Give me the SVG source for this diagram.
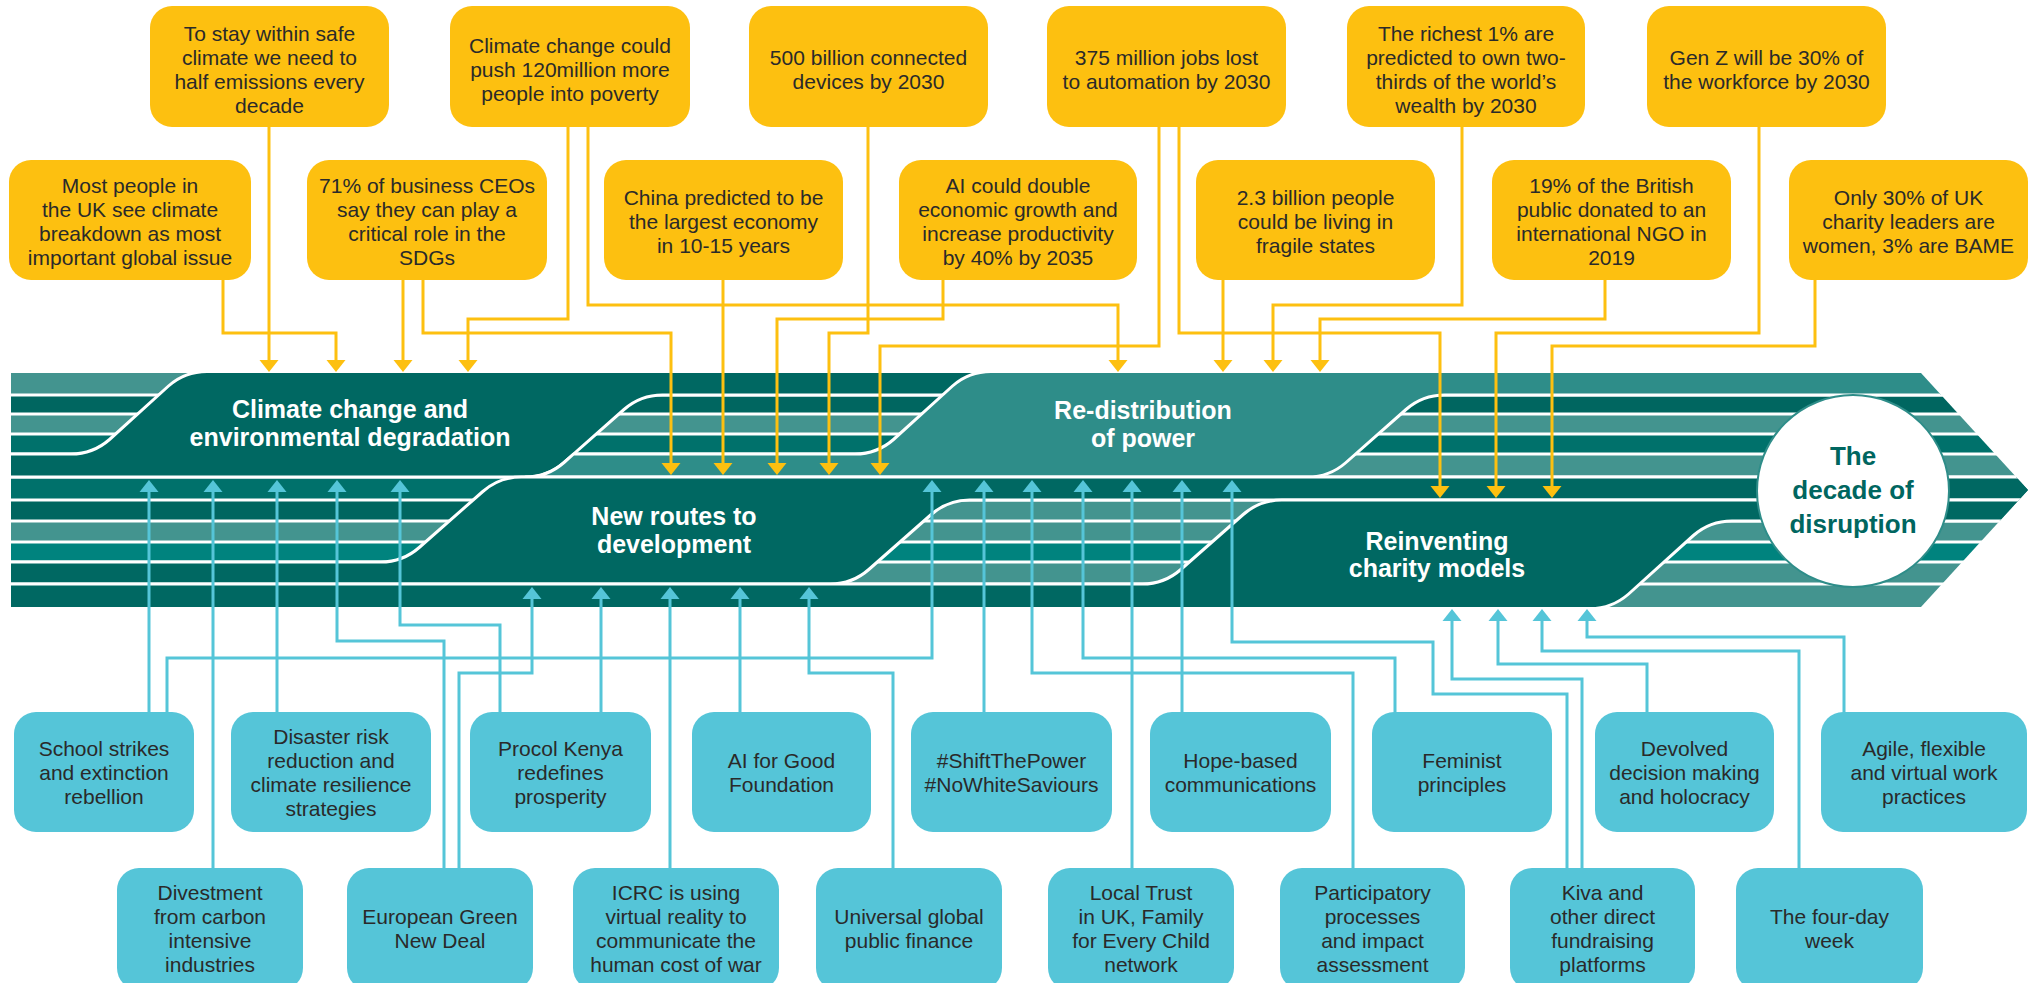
<svg xmlns="http://www.w3.org/2000/svg" width="2037" height="983" viewBox="0 0 2037 983">
<style>
.s-g{fill:#43948F}.s-d{fill:#006660}.s-t{fill:#00716B}.s-b{fill:#00837E}
.th-d{fill:#006862;stroke:#fff;stroke-width:3;stroke-linejoin:round}
.th-l{fill:#2E8D89;stroke:#fff;stroke-width:3;stroke-linejoin:round}
.lab{font-family:"Liberation Sans",Arial,sans-serif;font-weight:bold;font-size:25px;fill:#fff;text-anchor:middle}
.yb{fill:#FDC010}
.bb{fill:#55C5D8}
.tx{font-family:"Liberation Sans",Arial,sans-serif;font-size:21px;fill:#2A2A2A;text-anchor:middle}
.yl{fill:none;stroke:#FDC010;stroke-width:3;marker-end:url(#ay)}
.bl{fill:none;stroke:#55C5D8;stroke-width:3;marker-end:url(#ab)}
.ctx{font-family:"Liberation Sans",Arial,sans-serif;font-weight:bold;font-size:26px;fill:#006660;text-anchor:middle}
</style>
<defs>
<clipPath id="bc"><polygon points="11,373 1921,373 2028,490 1921,607 11,607"/></clipPath>
<marker id="ay" markerUnits="userSpaceOnUse" markerWidth="14" markerHeight="20" viewBox="0 -10 14 20" refX="1" refY="0" orient="auto"><path d="M0,-9.5 L12,0 L0,9.5 Z" fill="#FDC010"/></marker>
<marker id="ab" markerUnits="userSpaceOnUse" markerWidth="14" markerHeight="20" viewBox="0 -10 14 20" refX="1" refY="0" orient="auto"><path d="M0,-9.5 L12,0 L0,9.5 Z" fill="#55C5D8"/></marker>
</defs>
<rect width="2037" height="983" fill="#fff"/>

<g id="band-stripes" clip-path="url(#bc)">
<rect class="s-g" x="0" y="373" width="700" height="20.5"/>
<rect class="s-d" x="0" y="396.5" width="2100" height="16"/>
<rect class="s-g" x="0" y="415.5" width="2100" height="17"/>
<rect class="s-t" x="0" y="435.5" width="2100" height="17"/>
<rect class="s-g" x="0" y="455.5" width="2100" height="20"/>
<rect class="s-t" x="0" y="478.5" width="2100" height="20"/>
<rect class="s-d" x="0" y="501.5" width="700" height="18"/>
<rect class="s-g" x="700" y="501.5" width="1400" height="18"/>
<rect class="s-g" x="0" y="522.5" width="2100" height="18"/>
<rect class="s-b" x="0" y="543.5" width="2100" height="17"/>
<rect class="s-g" x="0" y="563.5" width="2100" height="19"/>
<rect class="s-g" x="0" y="585.5" width="2100" height="23"/>
</g>

<g id="theme-climate" clip-path="url(#bc)">
<path class="th-d" d="M0,454 L71,454 Q93,454 109.5,439.5 L168.5,386 Q185,371.5 207,371.5 L1000,371.5 L1000,395 L662.5,395 Q640.5,395 624,409.5 L564,462.5 Q547.5,477 525.5,477 L0,477 Z"/>
<text class="lab" x="350" y="418">Climate change and</text>
<text class="lab" x="350" y="446">environmental degradation</text>
</g>
<g id="theme-power" clip-path="url(#bc)">
<path class="th-l" d="M525.5,477 Q547.5,477 564,462.5 L573.6,454 L855,454 Q877,454 893.5,439.5 L952.5,386 Q969,371.5 991,371.5 L2100,371.5 L2100,395 L1444.5,395 Q1422.5,395 1406,409.5 L1346,462.5 Q1329.5,477 1307.5,477 Z"/>
<text class="lab" x="1143" y="419">Re-distribution</text>
<text class="lab" x="1143" y="447">of power</text>
</g>
<g id="theme-routes" clip-path="url(#bc)">
<path class="th-d" d="M0,562 L380.7,562 Q402.7,562 419.2,547.5 L482.8,491.5 Q499.3,477 521.3,477 L2100,477 L2100,500 L969.7,500 Q947.7,500 931.2,514.5 L868.8,569.5 Q852.3,584 830.3,584 L0,584 Z"/>
<text class="lab" x="674" y="525">New routes to</text>
<text class="lab" x="674" y="553">development</text>
</g>
<g id="theme-charity" clip-path="url(#bc)">
<path class="th-d" d="M0,584 L1142.3,584 Q1164.3,584 1180.8,569.5 L1243.2,514.5 Q1259.7,500 1281.7,500 L2100,500 L2100,521 L1731.9,521 Q1709.9,521 1693.4,535.5 L1628.6,594 Q1612.1,608.5 1590.1,608.5 L0,608.5 Z"/>
<text class="lab" x="1437" y="550">Reinventing</text>
<text class="lab" x="1437" y="577">charity models</text>
</g>

<g id="decade">
<circle cx="1853" cy="491" r="96" fill="#fff" stroke="#2E8D89" stroke-width="2"/>
<text class="ctx" x="1853" y="465">The</text>
<text class="ctx" x="1853" y="499">decade of</text>
<text class="ctx" x="1853" y="533">disruption</text>
</g>

<g id="connectors">
<path class="yl" d="M269,127 V361"/>
<path class="yl" d="M223,280 V333 H336 V361"/>
<path class="yl" d="M403,280 V361"/>
<path class="yl" d="M423,280 V333 H671 V464"/>
<path class="yl" d="M568,127 V319 H468 V361"/>
<path class="yl" d="M588,127 V305 H1118 V361"/>
<path class="yl" d="M723,280 V464"/>
<path class="yl" d="M868,127 V333 H829 V464"/>
<path class="yl" d="M943,280 V319 H777 V464"/>
<path class="yl" d="M1159,127 V346 H880 V464"/>
<path class="yl" d="M1179,127 V333 H1440 V487"/>
<path class="yl" d="M1223,280 V361"/>
<path class="yl" d="M1462,127 V305 H1273 V361"/>
<path class="yl" d="M1605,280 V319 H1320 V361"/>
<path class="yl" d="M1759,127 V333 H1496 V487"/>
<path class="yl" d="M1815,280 V346 H1552 V487"/>

<path class="bl" d="M149,712 V491"/>
<path class="bl" d="M167,712 V658 H932 V491"/>
<path class="bl" d="M213,868 V491"/>
<path class="bl" d="M277,712 V491"/>
<path class="bl" d="M444,868 V641 H337 V491"/>
<path class="bl" d="M500,712 V625 H400 V491"/>
<path class="bl" d="M459,868 V673 H532 V598"/>
<path class="bl" d="M601,712 V598"/>
<path class="bl" d="M670,868 V598"/>
<path class="bl" d="M740,712 V598"/>
<path class="bl" d="M893,868 V673 H809 V598"/>
<path class="bl" d="M984,712 V491"/>
<path class="bl" d="M1353,868 V673 H1032 V491"/>
<path class="bl" d="M1395,712 V658 H1083 V491"/>
<path class="bl" d="M1132,868 V491"/>
<path class="bl" d="M1182,712 V491"/>
<path class="bl" d="M1567,868 V694 H1433 V642 H1232 V491"/>
<path class="bl" d="M1582,868 V679 H1452 V620"/>
<path class="bl" d="M1647,712 V664 H1498 V620"/>
<path class="bl" d="M1799,868 V651 H1542 V620"/>
<path class="bl" d="M1844,712 V637 H1587 V620"/>
</g>

<g id="y1"><rect class="yb" x="150" y="6" width="239" height="121" rx="22"/>
<text class="tx" x="269.5" y="40.5">To stay within safe</text><text class="tx" x="269.5" y="64.5">climate we need to</text><text class="tx" x="269.5" y="88.5">half emissions every</text><text class="tx" x="269.5" y="112.5">decade</text></g>
<g id="y2"><rect class="yb" x="450" y="6" width="240" height="121" rx="22"/>
<text class="tx" x="570" y="52.5">Climate change could</text><text class="tx" x="570" y="76.5">push 120million more</text><text class="tx" x="570" y="100.5">people into poverty</text></g>
<g id="y3"><rect class="yb" x="749" y="6" width="239" height="121" rx="22"/>
<text class="tx" x="868.5" y="64.5">500 billion connected</text><text class="tx" x="868.5" y="88.5">devices by 2030</text></g>
<g id="y4"><rect class="yb" x="1047" y="6" width="239" height="121" rx="22"/>
<text class="tx" x="1166.5" y="64.5">375 million jobs lost</text><text class="tx" x="1166.5" y="88.5">to automation by 2030</text></g>
<g id="y5"><rect class="yb" x="1347" y="6" width="238" height="121" rx="22"/>
<text class="tx" x="1466" y="40.5">The richest 1% are</text><text class="tx" x="1466" y="64.5">predicted to own two-</text><text class="tx" x="1466" y="88.5">thirds of the world’s</text><text class="tx" x="1466" y="112.5">wealth by 2030</text></g>
<g id="y6"><rect class="yb" x="1647" y="6" width="239" height="121" rx="22"/>
<text class="tx" x="1766.5" y="64.5">Gen Z will be 30% of</text><text class="tx" x="1766.5" y="88.5">the workforce by 2030</text></g>

<g id="y7"><rect class="yb" x="9" y="160" width="242" height="120" rx="22"/>
<text class="tx" x="130" y="192.5">Most people in</text><text class="tx" x="130" y="216.5">the UK see climate</text><text class="tx" x="130" y="240.5">breakdown as most</text><text class="tx" x="130" y="264.5">important global issue</text></g>
<g id="y8"><rect class="yb" x="307" y="160" width="240" height="120" rx="22"/>
<text class="tx" x="427" y="192.5">71% of business CEOs</text><text class="tx" x="427" y="216.5">say they can play a</text><text class="tx" x="427" y="240.5">critical role in the</text><text class="tx" x="427" y="264.5">SDGs</text></g>
<g id="y9"><rect class="yb" x="604" y="160" width="239" height="120" rx="22"/>
<text class="tx" x="723.5" y="205">China predicted to be</text><text class="tx" x="723.5" y="229">the largest economy</text><text class="tx" x="723.5" y="253">in 10-15 years</text></g>
<g id="y10"><rect class="yb" x="899" y="160" width="238" height="120" rx="22"/>
<text class="tx" x="1018" y="192.5">AI could double</text><text class="tx" x="1018" y="216.5">economic growth and</text><text class="tx" x="1018" y="240.5">increase productivity</text><text class="tx" x="1018" y="264.5">by 40% by 2035</text></g>
<g id="y11"><rect class="yb" x="1196" y="160" width="239" height="120" rx="22"/>
<text class="tx" x="1315.5" y="205">2.3 billion people</text><text class="tx" x="1315.5" y="229">could be living in</text><text class="tx" x="1315.5" y="253">fragile states</text></g>
<g id="y12"><rect class="yb" x="1492" y="160" width="239" height="120" rx="22"/>
<text class="tx" x="1611.5" y="192.5">19% of the British</text><text class="tx" x="1611.5" y="216.5">public donated to an</text><text class="tx" x="1611.5" y="240.5">international NGO in</text><text class="tx" x="1611.5" y="264.5">2019</text></g>
<g id="y13"><rect class="yb" x="1789" y="160" width="239" height="120" rx="22"/>
<text class="tx" x="1908.5" y="205">Only 30% of UK</text><text class="tx" x="1908.5" y="229">charity leaders are</text><text class="tx" x="1908.5" y="253">women, 3% are BAME</text></g>

<g id="b1"><rect class="bb" x="14" y="712" width="180" height="120" rx="22"/>
<text class="tx" x="104" y="755.5">School strikes</text><text class="tx" x="104" y="779.5">and extinction</text><text class="tx" x="104" y="803.5">rebellion</text></g>
<g id="b2"><rect class="bb" x="231" y="712" width="200" height="120" rx="22"/>
<text class="tx" x="331" y="743.5">Disaster risk</text><text class="tx" x="331" y="767.5">reduction and</text><text class="tx" x="331" y="791.5">climate resilience</text><text class="tx" x="331" y="815.5">strategies</text></g>
<g id="b3"><rect class="bb" x="470" y="712" width="181" height="120" rx="22"/>
<text class="tx" x="560.5" y="755.5">Procol Kenya</text><text class="tx" x="560.5" y="779.5">redefines</text><text class="tx" x="560.5" y="803.5">prosperity</text></g>
<g id="b4"><rect class="bb" x="692" y="712" width="179" height="120" rx="22"/>
<text class="tx" x="781.5" y="767.5">AI for Good</text><text class="tx" x="781.5" y="791.5">Foundation</text></g>
<g id="b5"><rect class="bb" x="911" y="712" width="201" height="120" rx="22"/>
<text class="tx" x="1011.5" y="767.5">#ShiftThePower</text><text class="tx" x="1011.5" y="791.5">#NoWhiteSaviours</text></g>
<g id="b6"><rect class="bb" x="1150" y="712" width="181" height="120" rx="22"/>
<text class="tx" x="1240.5" y="767.5">Hope-based</text><text class="tx" x="1240.5" y="791.5">communications</text></g>
<g id="b7"><rect class="bb" x="1372" y="712" width="180" height="120" rx="22"/>
<text class="tx" x="1462" y="767.5">Feminist</text><text class="tx" x="1462" y="791.5">principles</text></g>
<g id="b8"><rect class="bb" x="1595" y="712" width="179" height="120" rx="22"/>
<text class="tx" x="1684.5" y="755.5">Devolved</text><text class="tx" x="1684.5" y="779.5">decision making</text><text class="tx" x="1684.5" y="803.5">and holocracy</text></g>
<g id="b9"><rect class="bb" x="1821" y="712" width="206" height="120" rx="22"/>
<text class="tx" x="1924" y="755.5">Agile, flexible</text><text class="tx" x="1924" y="779.5">and virtual work</text><text class="tx" x="1924" y="803.5">practices</text></g>

<g id="b10"><rect class="bb" x="117" y="868" width="186" height="122" rx="22"/>
<text class="tx" x="210" y="899.5">Divestment</text><text class="tx" x="210" y="923.5">from carbon</text><text class="tx" x="210" y="947.5">intensive</text><text class="tx" x="210" y="971.5">industries</text></g>
<g id="b11"><rect class="bb" x="347" y="868" width="186" height="122" rx="22"/>
<text class="tx" x="440" y="923.5">European Green</text><text class="tx" x="440" y="947.5">New Deal</text></g>
<g id="b12"><rect class="bb" x="573" y="868" width="206" height="122" rx="22"/>
<text class="tx" x="676" y="899.5">ICRC is using</text><text class="tx" x="676" y="923.5">virtual reality to</text><text class="tx" x="676" y="947.5">communicate the</text><text class="tx" x="676" y="971.5">human cost of war</text></g>
<g id="b13"><rect class="bb" x="816" y="868" width="186" height="122" rx="22"/>
<text class="tx" x="909" y="923.5">Universal global</text><text class="tx" x="909" y="947.5">public finance</text></g>
<g id="b14"><rect class="bb" x="1048" y="868" width="186" height="122" rx="22"/>
<text class="tx" x="1141" y="899.5">Local Trust</text><text class="tx" x="1141" y="923.5">in UK, Family</text><text class="tx" x="1141" y="947.5">for Every Child</text><text class="tx" x="1141" y="971.5">network</text></g>
<g id="b15"><rect class="bb" x="1280" y="868" width="185" height="122" rx="22"/>
<text class="tx" x="1372.5" y="899.5">Participatory</text><text class="tx" x="1372.5" y="923.5">processes</text><text class="tx" x="1372.5" y="947.5">and impact</text><text class="tx" x="1372.5" y="971.5">assessment</text></g>
<g id="b16"><rect class="bb" x="1510" y="868" width="185" height="122" rx="22"/>
<text class="tx" x="1602.5" y="899.5">Kiva and</text><text class="tx" x="1602.5" y="923.5">other direct</text><text class="tx" x="1602.5" y="947.5">fundraising</text><text class="tx" x="1602.5" y="971.5">platforms</text></g>
<g id="b17"><rect class="bb" x="1736" y="868" width="187" height="122" rx="22"/>
<text class="tx" x="1829.5" y="923.5">The four-day</text><text class="tx" x="1829.5" y="947.5">week</text></g>
</svg>
